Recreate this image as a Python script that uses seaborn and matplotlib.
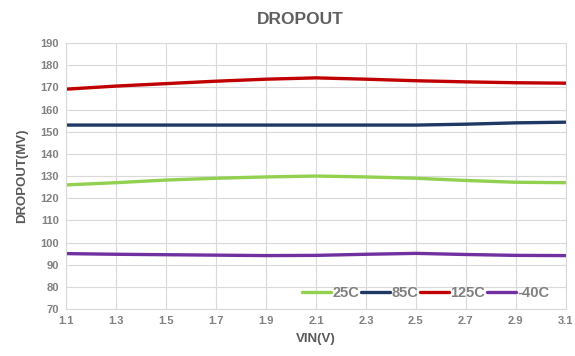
import numpy as np
import pandas as pd
import matplotlib
matplotlib.use("Agg")
import matplotlib.pyplot as plt
import seaborn as sns

vin = [1.1, 1.3, 1.5, 1.7, 1.9, 2.1, 2.3, 2.5, 2.7, 2.9, 3.1]
d_25c = [126.0, 127.0, 128.2, 129.0, 129.6, 130.0, 129.6, 129.0, 128.0, 127.2, 127.0]
d_85c = [153.0, 153.0, 153.0, 153.0, 153.0, 153.0, 153.0, 153.0, 153.4, 154.0, 154.3]
d_125c = [169.2, 170.6, 171.7, 172.8, 173.7, 174.3, 173.7, 173.0, 172.5, 172.1, 171.9]
d_m40c = [95.0, 94.7, 94.5, 94.3, 94.1, 94.2, 94.7, 95.1, 94.6, 94.2, 94.1]
series_names = ["25C", "85C", "125C", "-40C"]
series_colors = ["#92d050", "#1f3864", "#c00000", "#7030a0"]
y_ticks = list(range(70, 191, 10))
x_ticks = vin

df = pd.concat([
    pd.DataFrame({"VIN": vin, "Dropout": vals, "Temp": name})
    for name, vals in zip(series_names, [d_25c, d_85c, d_125c, d_m40c])
])

sns.set_theme(style="white")
plt.rcParams["font.family"] = ["Liberation Sans", "DejaVu Sans"]

fig = plt.figure(figsize=(5.75, 3.56), dpi=100)
ax = fig.add_axes([0.115, 0.132, 0.869, 0.747])

sns.lineplot(data=df, x="VIN", y="Dropout", hue="Temp", hue_order=series_names,
             palette=series_colors, linewidth=2.4, ax=ax, legend=True,
             solid_joinstyle="round", solid_capstyle="round")

ax.set_xlim(1.1, 3.1)
ax.set_ylim(70, 190)
ax.set_xticks(x_ticks)
ax.set_xticklabels([f"{v:.1f}" for v in x_ticks])
ax.set_yticks(y_ticks)
ax.grid(True, color="#d9d9d9", linewidth=0.8)
for s in ax.spines.values():
    s.set_color("#d9d9d9")
    s.set_linewidth(0.8)
ax.tick_params(axis="both", length=0, labelsize=8, colors="#808080", pad=5)
for lab in ax.get_xticklabels() + ax.get_yticklabels():
    lab.set_fontweight("bold")

ax.set_xlabel("VIN(V)", fontsize=9.5, fontweight="bold", color="#595959", labelpad=5)
ax.set_ylabel("DROPOUT(MV)", fontsize=9.5, fontweight="bold", color="#595959", labelpad=9)
fig.suptitle("DROPOUT", x=0.522, y=0.965, fontsize=12.5, fontweight="bold", color="#5f5f5f")

handles, labels = ax.get_legend_handles_labels()
leg = ax.legend(handles, labels, loc="lower right", bbox_to_anchor=(0.985, 0.0),
                ncol=4, frameon=False, fontsize=10.5, handlelength=2.0,
                handletextpad=0.1, columnspacing=0.1, borderaxespad=0.2)
for t in leg.get_texts():
    t.set_fontweight("bold")
    t.set_color("#808080")
for ln in leg.get_lines():
    ln.set_linewidth(2.4)

fig.savefig("out.png", dpi=100)
